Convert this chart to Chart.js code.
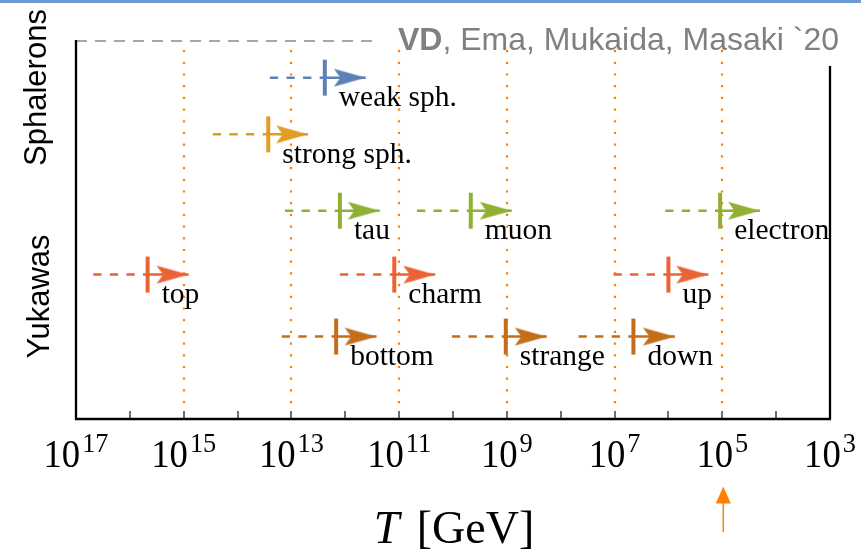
<!DOCTYPE html>
<html><head><meta charset="utf-8">
<script src="https://cdn.jsdelivr.net/npm/chart.js@4"></script>
<style>html,body{margin:0;padding:0;background:#fff;overflow:hidden}#wrap{width:861px;height:555px;position:relative}</style>
</head><body><div id="wrap"><canvas id="c" width="861" height="555"></canvas></div>
<script>
// ---- data (temperatures as log10(T / GeV)) ----
const itemNames = ['weak sph.', 'strong sph.', 'tau', 'muon', 'electron', 'top', 'charm', 'up', 'bottom', 'strange', 'down'];
const itemGroup = ['weak', 'strong', 'lepton', 'lepton', 'lepton', 'upq', 'upq', 'upq', 'downq', 'downq', 'downq'];
const itemRow   = [9.03, 7.53, 5.51, 5.51, 5.51, 3.82, 3.82, 3.82, 2.18, 2.18, 2.18];
const startExp  = [13.40, 14.46, 13.12, 10.67, 6.06, 16.68, 12.10, 7.02, 13.18, 10.02, 7.67];
const tickExp   = [12.38, 13.43, 12.10, 9.67, 5.04, 15.67, 11.09, 6.00, 12.17, 9.02, 6.65];
const tipExp    = [11.62, 12.69, 11.36, 8.91, 4.30, 14.91, 10.33, 5.26, 11.42, 8.26, 5.88];
const axisLabelExps = [17, 15, 13, 11, 9, 7, 5, 3];
const gridExps  = [15, 13, 11, 9, 7, 5];
const minorExps = [17, 16, 15, 14, 13, 12, 11, 10, 9, 8, 7, 6, 5, 4, 3];
const markerExp = 5;
const rowTitles = ['Sphalerons', 'Yukawas'];
const creditBold = 'VD';
const creditRest = ', Ema, Mukaida, Masaki `20';

// ---- styles ----
const groupColor = {weak:'#5e81b5', strong:'#e19c24', lepton:'#8fb032', upq:'#eb6235', downq:'#c56e1a'};

function arrowHead(color){
  const c = document.createElement('canvas');
  c.width = 68; c.height = 20;
  const g = c.getContext('2d');
  g.fillStyle = color;
  g.beginPath();
  g.moveTo(34, 10);
  g.lineTo(2, 1);
  g.lineTo(8.5, 10);
  g.lineTo(2, 19);
  g.closePath();
  g.fill();
  return c;
}
const heads = {};
Object.keys(groupColor).forEach(k => heads[k] = arrowHead(groupColor[k]));

const datasets = [];
itemNames.forEach((name, i) => {
  const col = groupColor[itemGroup[i]];
  datasets.push({
    label: name + ' (dashed)',
    data: [{x: 10 ** startExp[i], y: itemRow[i]}, {x: 10 ** tickExp[i], y: itemRow[i]}],
    borderColor: col, borderWidth: 2.5, borderDash: [8.3, 8.3],
    pointRadius: 0, fill: false, tension: 0
  });
  datasets.push({
    label: name,
    data: [{x: 10 ** tickExp[i], y: itemRow[i]}, {x: 10 ** tipExp[i], y: itemRow[i]}],
    borderColor: col, borderWidth: 2.5, fill: false, tension: 0,
    pointStyle: ctx => ctx.dataIndex === 0 ? 'line' : heads[itemGroup[i]],
    pointRadius: ctx => ctx.dataIndex === 0 ? 18 : 5,
    pointRotation: ctx => ctx.dataIndex === 0 ? 90 : 0,
    pointBorderWidth: 4, pointBorderColor: col, pointBackgroundColor: col
  });
});

const decor = {
  id: 'decor',
  beforeDatasetsDraw(chart){
    const {ctx, chartArea: a, scales: {x}} = chart;
    ctx.save();
    // orange dotted guide lines
    ctx.strokeStyle = '#ff8000'; ctx.lineWidth = 2.2; ctx.setLineDash([2.2, 9.5]);
    gridExps.forEach(e => {
      const px = Math.round(x.getPixelForValue(10 ** e));
      ctx.beginPath(); ctx.moveTo(px, a.top + 9); ctx.lineTo(px, a.bottom - 4); ctx.stroke();
    });
    // top dashed grey line
    ctx.setLineDash([11, 8]); ctx.strokeStyle = '#8a8a8a'; ctx.lineWidth = 1.3;
    ctx.beginPath(); ctx.moveTo(a.left, a.top); ctx.lineTo(380, a.top); ctx.stroke();
    ctx.setLineDash([]);
    // ticks
    ctx.strokeStyle = '#707070'; ctx.lineWidth = 2;
    minorExps.forEach(e => {
      const px = Math.round(x.getPixelForValue(10 ** e));
      ctx.beginPath(); ctx.moveTo(px, a.bottom - 8); ctx.lineTo(px, a.bottom); ctx.stroke();
    });
    // frame
    ctx.strokeStyle = '#000'; ctx.lineWidth = 2.3;
    ctx.beginPath(); ctx.moveTo(a.left, a.top - 1); ctx.lineTo(a.left, a.bottom); ctx.lineTo(a.right + 1, a.bottom); ctx.stroke();
    ctx.beginPath(); ctx.moveTo(a.right, a.top + 25); ctx.lineTo(a.right, a.bottom); ctx.stroke();
    ctx.restore();
  },
  afterDraw(chart){
    const {ctx, chartArea: a, scales: {x, y}} = chart;
    ctx.save();
    // top blue bar
    ctx.fillStyle = '#6d9ad0'; ctx.fillRect(0, 0, chart.width, 3);
    // item labels
    ctx.fillStyle = '#000'; ctx.textBaseline = 'alphabetic'; ctx.textAlign = 'left';
    ctx.font = '29.5px "Liberation Serif"';
    itemNames.forEach((n, i) => {
      const px = x.getPixelForValue(10 ** tickExp[i]);
      const py = y.getPixelForValue(itemRow[i]);
      ctx.fillText(n, px + 14, py + 28.5);
    });
    // axis labels 10^n
    const sx = 0.94;
    axisLabelExps.forEach(e => {
      const px = x.getPixelForValue(10 ** e);
      ctx.font = '39px "Liberation Serif"';
      const w1 = ctx.measureText('10').width * sx;
      ctx.font = '28px "Liberation Serif"';
      const w2 = ctx.measureText(String(e)).width * sx;
      const tot = w1 + 2 + w2;
      const x0 = px - tot / 2;
      ctx.save(); ctx.translate(x0, 467); ctx.scale(sx, 1);
      ctx.font = '39px "Liberation Serif"'; ctx.fillText('10', 0, 0);
      ctx.restore();
      ctx.save(); ctx.translate(x0 + w1 + 2, 452); ctx.scale(sx, 1);
      ctx.font = '28px "Liberation Serif"'; ctx.fillText(String(e), 0, 0);
      ctx.restore();
    });
    // axis title
    ctx.font = 'italic 46px "Liberation Serif"';
    const wT = ctx.measureText('T').width + 6;
    ctx.font = '46px "Liberation Serif"';
    const wR = ctx.measureText(' [GeV]').width;
    const tx = 454 - (wT + wR) / 2;
    ctx.font = 'italic 46px "Liberation Serif"'; ctx.fillText('T', tx, 543);
    ctx.font = '46px "Liberation Serif"'; ctx.fillText(' [GeV]', tx + wT, 543);
    // marker arrow
    const mx = x.getPixelForValue(10 ** markerExp) + 1;
    ctx.strokeStyle = '#ff8000'; ctx.fillStyle = '#ff8000'; ctx.lineWidth = 1.5;
    ctx.beginPath(); ctx.moveTo(mx, 502); ctx.lineTo(mx, 532); ctx.stroke();
    ctx.beginPath(); ctx.moveTo(mx, 486.5); ctx.lineTo(mx - 7.5, 503.5); ctx.lineTo(mx + 7.5, 503.5); ctx.closePath(); ctx.fill();
    // credit
    ctx.fillStyle = '#808080';
    ctx.font = 'bold 32px "Liberation Sans"';
    ctx.fillText(creditBold, 398, 49.5);
    const wb = ctx.measureText(creditBold).width;
    ctx.font = '32px "Liberation Sans"';
    ctx.fillText(creditRest, 398 + wb, 49.5);
    // row titles (rotated)
    ctx.fillStyle = '#000'; ctx.font = '31px "Liberation Sans"'; ctx.textAlign = 'center';
    ctx.save(); ctx.translate(46, 87.5); ctx.rotate(-Math.PI / 2); ctx.fillText(rowTitles[0], 0, 0); ctx.restore();
    ctx.save(); ctx.translate(48.5, 296.5); ctx.rotate(-Math.PI / 2); ctx.fillText(rowTitles[1], 0, 0); ctx.restore();
    ctx.restore();
  }
};

new Chart(document.getElementById('c'), {
  type: 'line',
  data: {datasets},
  options: {
    responsive: false, animation: false, events: [],
    layout: {padding: {left: 76, right: 31, top: 41, bottom: 136}},
    plugins: {legend: {display: false}, tooltip: {enabled: false}},
    scales: {
      x: {type: 'logarithmic', reverse: true, min: 1e3, max: 1e17, display: false},
      y: {type: 'linear', min: 0, max: 10, display: false}
    }
  },
  plugins: [decor]
});
</script></body></html>
